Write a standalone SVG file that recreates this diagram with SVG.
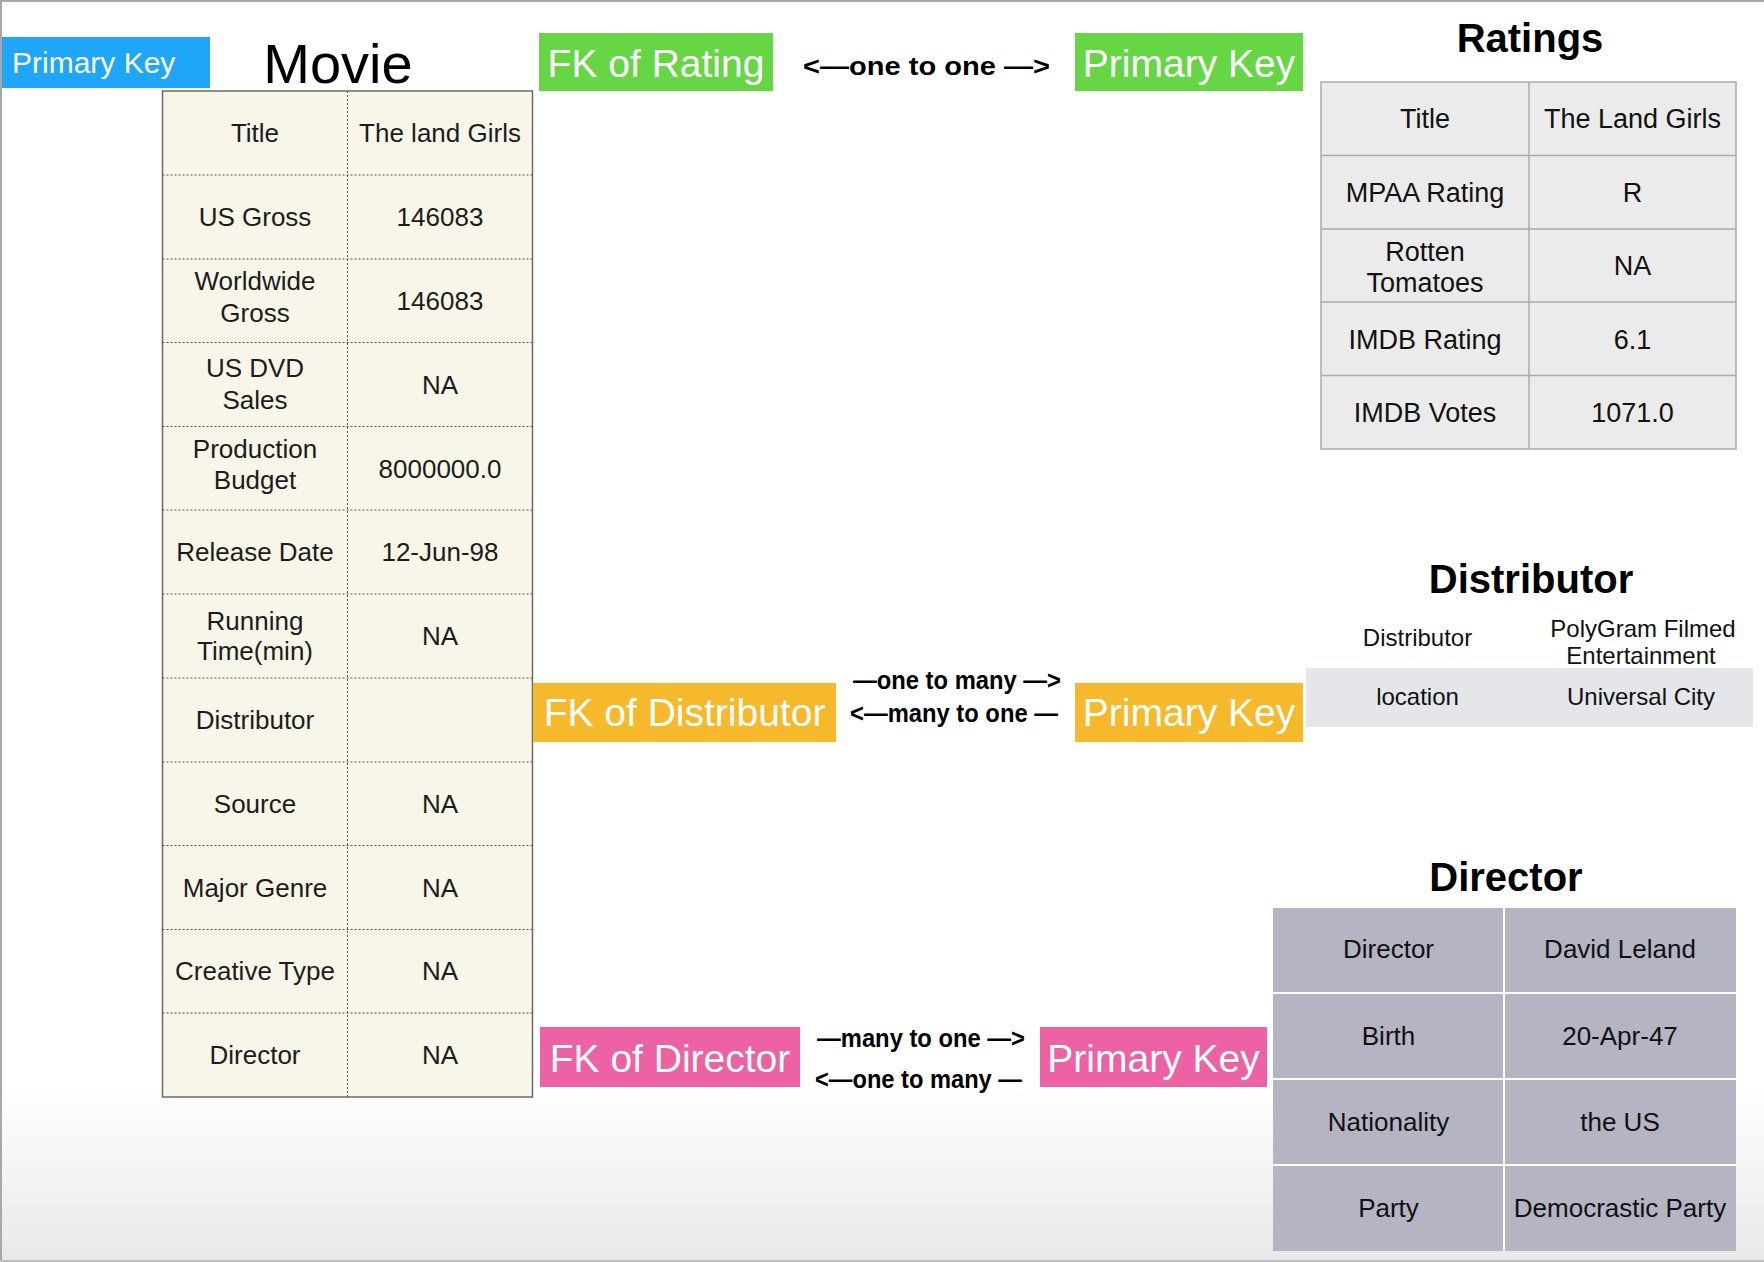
<svg xmlns="http://www.w3.org/2000/svg" width="1764" height="1262" viewBox="0 0 1764 1262">
<defs>
<linearGradient id="bg" x1="0" y1="0" x2="0" y2="1">
<stop offset="0" stop-color="#ffffff"/>
<stop offset="0.86" stop-color="#ffffff"/>
<stop offset="1" stop-color="#e8e8e8"/>
</linearGradient>
<style>
text{font-family:"Liberation Sans",Arial,Helvetica,sans-serif;text-anchor:middle}
.mv{font-size:26px;fill:#1c1c1c}
.rt{font-size:27px;fill:#111}
.ds{font-size:24px;fill:#111}
.dr{font-size:26px;fill:#111}
.key{font-size:39px;fill:#ffffff}
.rel{font-size:26px;font-weight:bold;fill:#000;text-anchor:start}
.ttl{font-size:40px;font-weight:bold;fill:#000}
.dot{stroke:#555;stroke-width:1;stroke-dasharray:2 2;fill:none}
.rl{stroke:#aaaaaa;stroke-width:1.5;fill:none}
.wl{stroke:#ffffff;stroke-width:2;fill:none}
</style>
</defs>
<rect x="0" y="0" width="1764" height="1262" fill="url(#bg)"/>
<path d="M1,1262 V1 H1764" stroke="#a8a8a8" stroke-width="2" fill="none"/>
<path d="M0,1261 H1764" stroke="#bdbdbd" stroke-width="2" fill="none"/>

<g id="pk-movie">
<rect x="2" y="37" width="208" height="51" fill="#1fa6fb"/>
<text x="12" y="73" style="font-size:30px;fill:#fff;text-anchor:start">Primary Key</text>
</g>

<g id="movie">
<text x="338" y="83" style="font-size:56px;fill:#000">Movie</text>
<rect x="162.5" y="91" width="370" height="1006" fill="#f8f5e9" stroke="#6a6a6a" stroke-width="1.5"/>
<path class="dot" d="M347.5,91 V1097 M162.5,175 H532.5 M162.5,259 H532.5 M162.5,342.5 H532.5 M162.5,426.5 H532.5 M162.5,510 H532.5 M162.5,594 H532.5 M162.5,678 H532.5 M162.5,762 H532.5 M162.5,845.5 H532.5 M162.5,929.5 H532.5 M162.5,1013 H532.5"/>
<g class="mv">
<text x="255" y="142">Title</text>
<text x="440" y="142">The land Girls</text>
<text x="255" y="226">US Gross</text>
<text x="440" y="226">146083</text>
<text x="255" y="290">Worldwide</text>
<text x="255" y="322">Gross</text>
<text x="440" y="309.5">146083</text>
<text x="255" y="377">US DVD</text>
<text x="255" y="409">Sales</text>
<text x="440" y="393.5">NA</text>
<text x="255" y="458">Production</text>
<text x="255" y="489">Budget</text>
<text x="440" y="477.5">8000000.0</text>
<text x="255" y="561">Release Date</text>
<text x="440" y="561">12-Jun-98</text>
<text x="255" y="630">Running</text>
<text x="255" y="660">Time(min)</text>
<text x="440" y="645">NA</text>
<text x="255" y="729">Distributor</text>
<text x="255" y="812.5">Source</text>
<text x="440" y="812.5">NA</text>
<text x="255" y="896.5">Major Genre</text>
<text x="440" y="896.5">NA</text>
<text x="255" y="980">Creative Type</text>
<text x="440" y="980">NA</text>
<text x="255" y="1064">Director</text>
<text x="440" y="1064">NA</text>
</g>
</g>

<g id="fk-rating">
<rect x="539" y="33" width="234" height="58" fill="#66d644"/>
<text class="key" x="656" y="77">FK of Rating</text>
</g>
<g id="pk-rating">
<rect x="1075" y="33" width="228" height="58" fill="#66d644"/>
<text class="key" x="1189" y="77">Primary Key</text>
</g>

<g id="ratings">
<text class="ttl" x="1530" y="52">Ratings</text>
<rect x="1321" y="82" width="415" height="367" fill="#ebebeb" stroke="#aaaaaa" stroke-width="1.5"/>
<path class="rl" d="M1529,82 V449 M1321,155.5 H1736 M1321,229 H1736 M1321,302 H1736 M1321,375.5 H1736"/>
<g class="rt">
<text x="1425" y="128">Title</text>
<text x="1632.5" y="128">The Land Girls</text>
<text x="1425" y="201.5">MPAA Rating</text>
<text x="1632.5" y="201.5">R</text>
<text x="1425" y="261">Rotten</text>
<text x="1425" y="292">Tomatoes</text>
<text x="1632.5" y="275">NA</text>
<text x="1425" y="348.5">IMDB Rating</text>
<text x="1632.5" y="348.5">6.1</text>
<text x="1425" y="422">IMDB Votes</text>
<text x="1632.5" y="422">1071.0</text>
</g>
</g>

<g id="fk-distributor">
<rect x="533" y="683" width="303" height="59" fill="#f6b92c"/>
<text class="key" x="684.5" y="726">FK of Distributor</text>
</g>
<g id="pk-distributor">
<rect x="1075" y="683" width="228" height="59" fill="#f6b92c"/>
<text class="key" x="1189" y="726">Primary Key</text>
</g>

<g id="distributor">
<text class="ttl" x="1531" y="593">Distributor</text>
<rect x="1306" y="668" width="447" height="59" fill="#e5e6ea"/>
<g class="ds">
<text x="1417.5" y="646">Distributor</text>
<text x="1643" y="637">PolyGram Filmed</text>
<text x="1641" y="664">Entertainment</text>
<text x="1417.5" y="705">location</text>
<text x="1641" y="705">Universal City</text>
</g>
</g>

<g id="fk-director">
<rect x="540" y="1027" width="260" height="60" fill="#ec62a5"/>
<text class="key" x="670" y="1071.5">FK of Director</text>
</g>
<g id="pk-director">
<rect x="1040" y="1027" width="227" height="60" fill="#ec62a5"/>
<text class="key" x="1153.5" y="1071.5">Primary Key</text>
</g>

<g id="director">
<text class="ttl" x="1506" y="891">Director</text>
<rect x="1273" y="908" width="463" height="343" fill="#b4b4c2"/>
<path class="wl" d="M1504,908 V1251 M1273,993 H1736 M1273,1079 H1736 M1273,1165 H1736"/>
<g class="dr">
<text x="1388.5" y="958">Director</text>
<text x="1620" y="958">David Leland</text>
<text x="1388.5" y="1045">Birth</text>
<text x="1620" y="1045">20-Apr-47</text>
<text x="1388.5" y="1131">Nationality</text>
<text x="1620" y="1131">the US</text>
<text x="1388.5" y="1217">Party</text>
<text x="1620" y="1217">Democrastic Party</text>
</g>
</g>

<g id="connectors">
<text class="rel" x="803" y="75" textLength="247" lengthAdjust="spacingAndGlyphs">&lt;—one to one —&gt;</text>
<text class="rel" x="853" y="689" textLength="208" lengthAdjust="spacingAndGlyphs">—one to many —&gt;</text>
<text class="rel" x="850" y="722" textLength="208" lengthAdjust="spacingAndGlyphs">&lt;—many to one —</text>
<text class="rel" x="817" y="1047" textLength="208" lengthAdjust="spacingAndGlyphs">—many to one —&gt;</text>
<text class="rel" x="815" y="1088" textLength="207" lengthAdjust="spacingAndGlyphs">&lt;—one to many —</text>
</g>
</svg>
